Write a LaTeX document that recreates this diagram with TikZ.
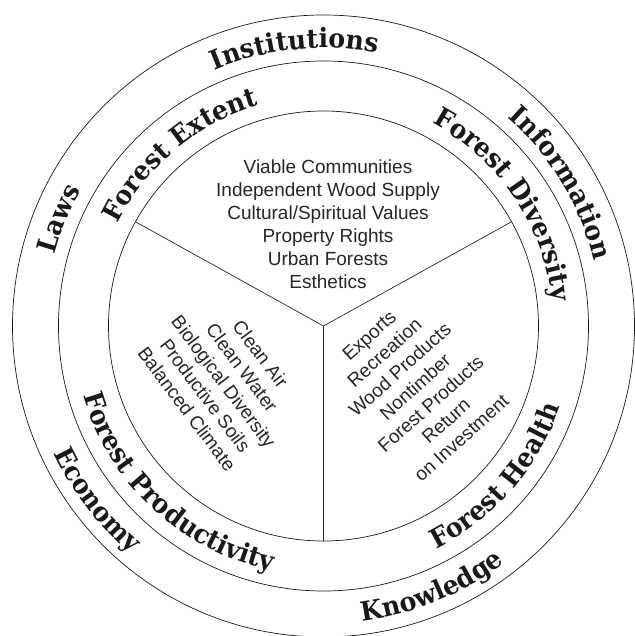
\documentclass[tikz,border=0pt]{standalone}
\usepackage{fontspec}
\setsansfont{Liberation Sans}
\newfontfamily\labfam[FakeStretch=0.95]{DejaVu Serif}
\usetikzlibrary{decorations.text}
\newcommand\labfont{\labfam\bfseries\fontsize{26.5}{29}\selectfont}
\newcommand\itemfont{\sffamily\fontsize{19}{23}\selectfont}
\begin{document}
\begin{tikzpicture}[x=1pt,y=1pt,
  ring/.style={line width=0.7pt,draw=black!90},
  spoke/.style={line width=0.7pt,draw=black!85},
  itemtext/.style={align=center,font=\itemfont,inner sep=0pt,text=black!85},
  arclabel/.style={decorate,decoration={text along path,text align=center,text color=black!90,text={|\labfont|#1}}}]
\useasboundingbox (-323.5,-310) rectangle (310.5,326);
% circles
\coordinate (c) at (0,0);
\draw[ring] (c) circle[radius=311pt];
\draw[ring] (c) circle[radius=265pt];
\draw[ring] (c) circle[radius=215pt];
% spokes
\coordinate (sl) at (151:215pt);
\coordinate (sr) at (29:215pt);
\coordinate (sb) at (270:215pt);
\draw[spoke] (c) -- (sl);
\draw[spoke] (c) -- (sr);
\draw[spoke] (c) -- (sb);
% outer ring labels (tops outward)
\path[arclabel=Institutions] (141:278pt) arc[start angle=141,end angle=51,radius=278pt];
\path[arclabel=Information] (76:278pt) arc[start angle=76,end angle=-14,radius=278pt];
\path[arclabel=Laws] (203:278pt) arc[start angle=203,end angle=113,radius=278pt];
% outer ring labels (tops inward)
\path[arclabel=Economy] (172.5:298pt) arc[start angle=172.5,end angle=262.5,radius=298pt];
\path[arclabel=Knowledge] (-112.5:298pt) arc[start angle=-112.5,end angle=-22.5,radius=298pt];
% middle ring labels
\path[arclabel=Forest Extent] (175:230pt) arc[start angle=175,end angle=85,radius=230pt];
\path[arclabel=Forest Diversity] (79:230pt) arc[start angle=79,end angle=-11,radius=230pt];
\path[arclabel=Forest Productivity] (182:250pt) arc[start angle=182,end angle=272,radius=250pt];
\path[arclabel=Forest Health] (-86:250pt) arc[start angle=-86,end angle=4,radius=250pt];
% sector contents
\node[itemtext] (social) at (4.5,101.8) {Viable Communities\\Independent Wood Supply\\Cultural/Spiritual Values\\Property Rights\\Urban Forests\\Esthetics};
\node[itemtext,rotate=-53] (envir) at (-99.7,-55.5) {Clean Air\\Clean Water\\Biological Diversity\\Productive Soils\\Balanced Climate};
\node[itemtext,rotate=42] (econ) at (91.8,-60.9) {Exports\\Recreation\\Wood Products\\Nontimber\\Forest Products\\Return\\on Investment};
\end{tikzpicture}
\end{document}
